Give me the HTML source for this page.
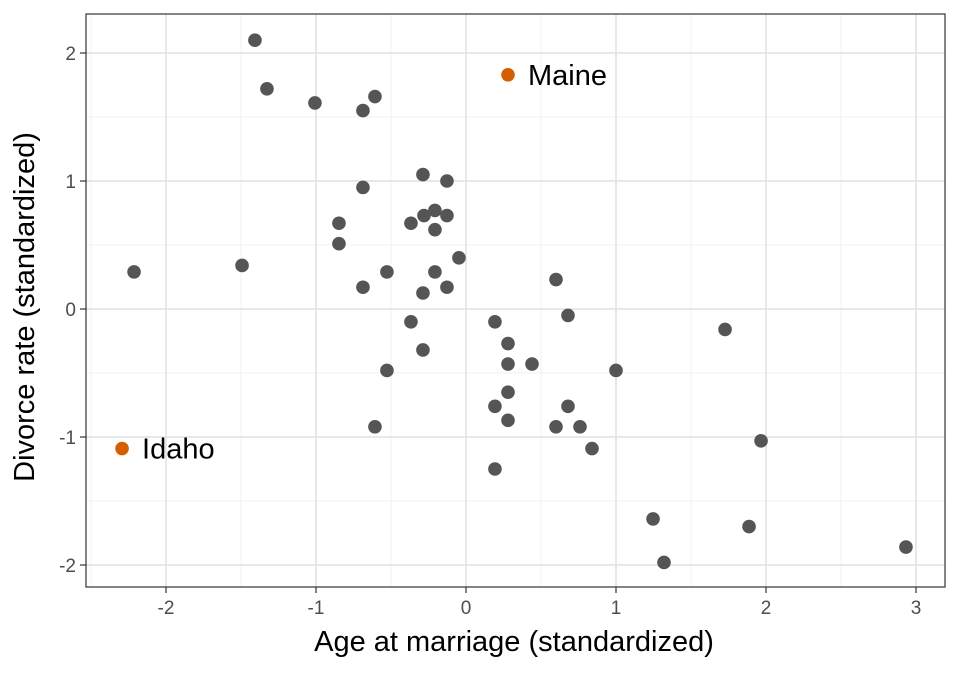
<!DOCTYPE html>
<html><head><meta charset="utf-8"><style>
html,body{margin:0;padding:0;background:#fff;}
svg text{font-family:"Liberation Sans",Arial,sans-serif;}
</style></head><body>
<svg id="chart" width="960" height="672" xmlns="http://www.w3.org/2000/svg">
<rect width="960" height="672" fill="#fff"/>
<g id="grid"></g>
<g id="pts"></g>
<g id="ticks"></g>
<rect x="86" y="14" width="859" height="573" fill="none" stroke="#333" stroke-width="1.2"/>
<text x="514" y="651" font-size="29" text-anchor="middle" fill="#000">Age at marriage (standardized)</text>
<text transform="translate(34,307) rotate(-90)" font-size="29" text-anchor="middle" fill="#000">Divorce rate (standardized)</text>
</svg>
<script>
const xs=[-1.407,-1.327,-1.007,-0.607,-0.687,-0.287,-0.127,-0.687,-0.847,-0.367,-0.28,-0.207,-0.127,-0.207,-0.847,-2.213,-1.493,-0.527,-0.047,-0.207,-0.687,-0.287,-0.127,0.6,-0.367,0.193,0.68,1.727,-0.287,0.28,0.28,0.44,-0.527,1.0,0.193,0.68,0.28,0.28,-0.607,0.6,0.76,0.84,1.967,0.193,1.247,1.887,1.32,2.933];
const ys=[2.10,1.72,1.61,1.66,1.55,1.05,1.00,0.95,0.67,0.67,0.73,0.77,0.73,0.62,0.51,0.29,0.34,0.29,0.40,0.29,0.17,0.125,0.17,0.23,-0.10,-0.10,-0.05,-0.16,-0.32,-0.27,-0.43,-0.43,-0.48,-0.48,-0.76,-0.76,-0.65,-0.87,-0.92,-0.92,-0.92,-1.09,-1.03,-1.25,-1.64,-1.70,-1.98,-1.86];
const hlNames=["Maine","Idaho"];
const hlX=[0.28,-2.293];
const hlY=[1.83,-1.09];
const xTicks=[-2,-1,0,1,2,3];
const yTicks=[-2,-1,0,1,2];
const xMinor=[-2.5,-1.5,-0.5,0.5,1.5,2.5];
const yMinor=[-1.5,-0.5,0.5,1.5];
const sx=v=>466+150*v, sy=v=>309-128*v;
const NS="http://www.w3.org/2000/svg";
function mk(t,a,p){const e=document.createElementNS(NS,t);for(const k in a)e.setAttribute(k,a[k]);p.appendChild(e);return e;}
const g=document.getElementById('grid'),pg=document.getElementById('pts'),tg=document.getElementById('ticks');
xMinor.forEach(v=>{const e=mk('line',{x1:sx(v),x2:sx(v),y1:14,y2:587,stroke:'#f0f0f0','stroke-width':1},g);

});
yMinor.forEach(v=>{const e=mk('line',{x1:86,x2:945,y1:sy(v),y2:sy(v),stroke:'#f0f0f0','stroke-width':1},g);

});
xTicks.forEach(v=>{const e=mk('line',{x1:sx(v),x2:sx(v),y1:14,y2:587,stroke:'#e5e5e5','stroke-width':1.8},g);


const t=mk('line',{x1:sx(v),x2:sx(v),y1:587,y2:593,stroke:'#333','stroke-width':1.2},tg);


const l=mk('text',{x:sx(v),y:614,'font-size':19,'text-anchor':'middle',fill:'#4d4d4d'},tg);l.textContent=v;

});
yTicks.forEach(v=>{const e=mk('line',{x1:86,x2:945,y1:sy(v),y2:sy(v),stroke:'#e5e5e5','stroke-width':1.8},g);


const t=mk('line',{x1:80,x2:86,y1:sy(v),y2:sy(v),stroke:'#333','stroke-width':1.2},tg);


const l=mk('text',{x:76,y:sy(v)+7,'font-size':19,'text-anchor':'end',fill:'#4d4d4d'},tg);l.textContent=v;

});
xs.forEach((v,i)=>{const c=mk('circle',{cx:sx(v),cy:sy(ys[i]),r:6.8,fill:'#555'},pg);

});
hlX.forEach((v,i)=>{const c=mk('circle',{cx:sx(v),cy:sy(hlY[i]),r:6.8,fill:'#d55e00'},pg);


const l=mk('text',{x:sx(v)+20,y:sy(hlY[i])+10,'font-size':29,fill:'#000'},pg);l.textContent=hlNames[i];

});
</script>
</body></html>
